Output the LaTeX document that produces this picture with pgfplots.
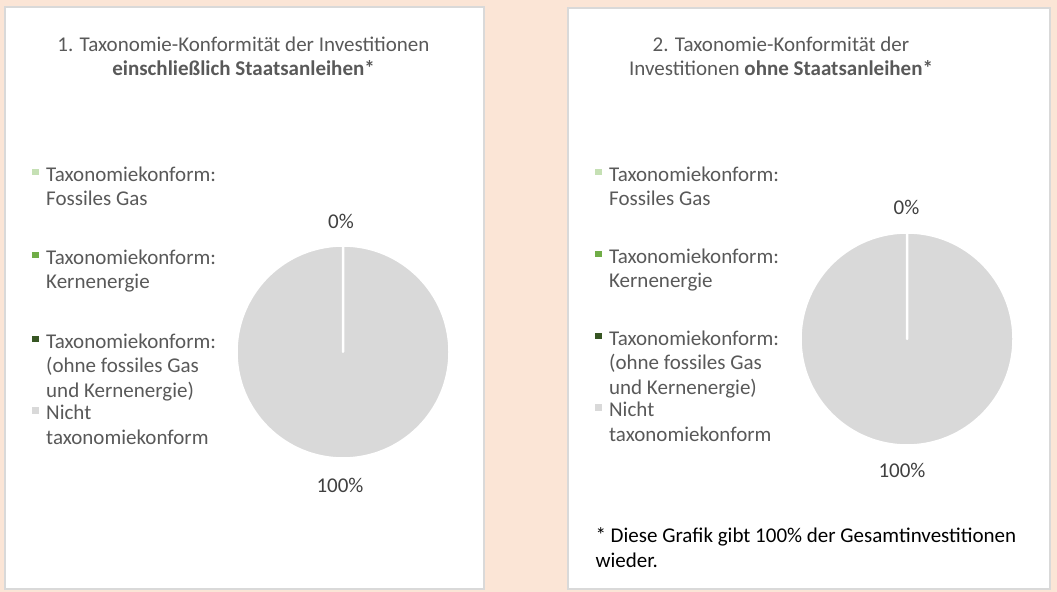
\documentclass[border=0pt]{standalone}
\usepackage{pgfplots}
\pgfplotsset{compat=1.18}
\usepackage{pgfplotstable}
\usepackage{fontspec}
\setmainfont{Carlito}

\definecolor{bgbeige}{HTML}{FBE5D6}
\definecolor{panelframe}{HTML}{D9D9D9}
\definecolor{txtgray}{HTML}{595959}
\definecolor{lblgray}{HTML}{404040}
\definecolor{cgas}{HTML}{C5E0B4}
\definecolor{ckern}{HTML}{70AD47}
\definecolor{cother}{HTML}{375623}
\definecolor{cnot}{HTML}{D9D9D9}

% shares in percent, same order as the legend
\pgfplotstableread{
share col
0 cgas
0 ckern
0 cother
100 cnot
}\pieinkl
\pgfplotstableread{
share col
0 cgas
0 ckern
0 cother
100 cnot
}\pieohne

\newcommand\fsz{\fontsize{21bp}{24.5bp}\selectfont}
\newcommand\piesize{106.5bp}
% legend entry: strut sets the distance to the entry above
\newcommand\lentry[2]{\parbox[t]{200bp}{\rule{0pt}{#1bp}#2}}

% slices clockwise from 12 o'clock, white borders as in Excel
\newcommand\drawpie[1]{%
  \pgfplotstablegetrowsof{#1}%
  \pgfmathtruncatemacro\lastrow{\pgfplotsretval-1}%
  \xdef\cumang{90}%
  \pgfplotsforeachungrouped \i in {0,...,\lastrow}{%
    \pgfplotstablegetelem{\i}{share}\of{#1}\let\val\pgfplotsretval
    \pgfplotstablegetelem{\i}{col}\of{#1}\let\col\pgfplotsretval
    \pgfmathsetmacro\endang{\cumang-3.6*\val}%
    \edef\slice{\noexpand\filldraw[fill=\col,draw=white,line width=2.5bp,line join=round]
      (axis cs:0,0) -- ++(\cumang:\piesize) arc[start angle=\cumang,end angle=\endang,radius=\piesize] -- cycle;}%
    \slice
    \xdef\cumang{\endang}%
  }%
}

\pgfplotsset{
  pieaxis/.style={
    anchor=center, scale only axis, width=213bp, height=213bp,
    xmin=-1, xmax=1, ymin=-1, ymax=1, hide axis, clip=false,
    legend image code/.code={\path[draw=none,fill=none] (0bp,0bp) rectangle (14bp,1bp);
      \fill[##1,draw=none] (0bp,6bp) rectangle (6.5bp,12.5bp);},
    legend style={anchor=north west, draw=none, fill=none, inner sep=0pt,
      row sep=0pt, font=\fsz, text=txtgray,
      cells={anchor=base west}, nodes={inner sep=0pt}},
  },
}

\begin{document}
\begin{tikzpicture}[x=1bp, y=1bp, font=\fsz]
\fill[bgbeige] (0,0) rectangle (1057,592);
\filldraw[fill=white, draw=panelframe, line width=1.2bp] (5,3) rectangle (484,585);
\filldraw[fill=white, draw=panelframe, line width=1.2bp] (568,3) rectangle (1050,584);

% titles
\node[anchor=base, text=txtgray] at (243.5,540) {1. Taxonomie-Konformität der Investitionen};
\node[anchor=base, text=txtgray] at (243.5,516) {\textbf{einschließlich Staatsanleihen*}};
\node[anchor=base, text=txtgray] at (781,540) {2. Taxonomie-Konformität der};
\node[anchor=base, text=txtgray] at (781,516) {Investitionen \textbf{ohne Staatsanleihen*}};

\begin{axis}[pieaxis, at={(343bp,240bp)},
  legend style={at={(axis description cs:-0.960,1.371)}}]
  \addlegendimage{cgas}
  \addlegendentry{\lentry{0}{Taxonomiekonform:\\Fossiles Gas}}
  \addlegendimage{ckern}
  \addlegendentry{\lentry{81.5}{Taxonomiekonform:\\Kernenergie}}
  \addlegendimage{cother}
  \addlegendentry{\lentry{82.5}{Taxonomiekonform:\\(ohne fossiles Gas\\und Kernenergie)}}
  \addlegendimage{cnot}
  \addlegendentry{\lentry{70}{Nicht\\taxonomiekonform}}
  \drawpie{\pieinkl}
\end{axis}

\begin{axis}[pieaxis, at={(907bp,253bp)},
  legend style={at={(axis description cs:-0.965,1.310)}}]
  \addlegendimage{cgas}
  \addlegendentry{\lentry{0}{Taxonomiekonform:\\Fossiles Gas}}
  \addlegendimage{ckern}
  \addlegendentry{\lentry{80.5}{Taxonomiekonform:\\Kernenergie}}
  \addlegendimage{cother}
  \addlegendentry{\lentry{80.5}{Taxonomiekonform:\\(ohne fossiles Gas\\und Kernenergie)}}
  \addlegendimage{cnot}
  \addlegendentry{\lentry{70}{Nicht\\taxonomiekonform}}
  \drawpie{\pieohne}
\end{axis}

% data labels
\node[anchor=base, text=lblgray] at (341,363) {0\%};
\node[anchor=base, text=lblgray] at (340,99) {100\%};
\node[anchor=base, text=lblgray] at (906.5,377) {0\%};
\node[anchor=base, text=lblgray] at (902,114) {100\%};

% footnote
\node[anchor=base west, text=black] at (592,49) {* Diese Grafik gibt 100\% der Gesamtinvestitionen};
\node[anchor=base west, text=black] at (592,24) {wieder.};
\end{tikzpicture}
\end{document}
